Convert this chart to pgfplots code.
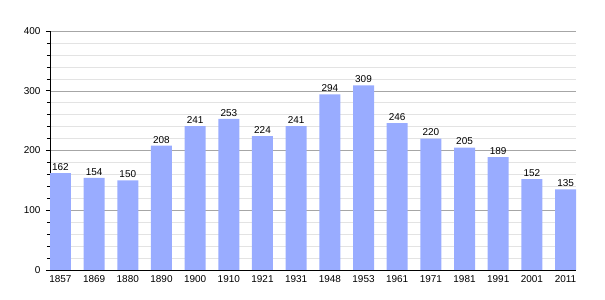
\documentclass[border=0pt]{standalone}
\usepackage{pgfplots}
\pgfplotsset{compat=1.18}
\usepackage{fontspec}
\setmainfont{Liberation Sans}
\definecolor{barblue}{RGB}{153,172,255}
\begin{document}
\begin{tikzpicture}
\path[use as bounding box] (-50bp,-30bp) rectangle (555bp,270bp);
\begin{axis}[
  at={(0,0)}, anchor=south west,
  scale only axis, width=526bp, height=239bp,
  xmin=-0.31, xmax=15.31, ymin=0, ymax=400,
  axis lines=left, axis line style={-, black, line width=0.8pt},
  xtick=data,
  xticklabels={1857,1869,1880,1890,1900,1910,1921,1931,1948,1953,1961,1971,1981,1991,2001,2011},
  xtick style={draw=none},
  ytick={0,100,200,300,400},
  minor ytick={20,40,60,80,120,140,160,180,220,240,260,280,320,340,360,380},
  ymajorgrids, yminorgrids,
  major grid style={gray!70, line width=0.5pt},
  minor grid style={gray!22, line width=0.5pt},
  tick align=outside,
  major tick length=4bp, minor tick length=3bp,
  ytick style={black, line width=0.6pt},
  tick label style={font=\fontsize{10}{12}\selectfont},
  /pgf/number format/assume math mode=true,
  yticklabel style={xshift=-2bp},
  xticklabel style={yshift=1.5bp},
  nodes near coords,
  every node near coord/.append style={font=\fontsize{10}{12}\selectfont, yshift=-1bp},
]
\addplot[ybar, bar width=0.624, fill=barblue, draw=none] coordinates {
(0,162) (1,154) (2,150) (3,208) (4,241) (5,253) (6,224) (7,241)
(8,294) (9,309) (10,246) (11,220) (12,205) (13,189) (14,152) (15,135)};
\end{axis}
\end{tikzpicture}
\end{document}
